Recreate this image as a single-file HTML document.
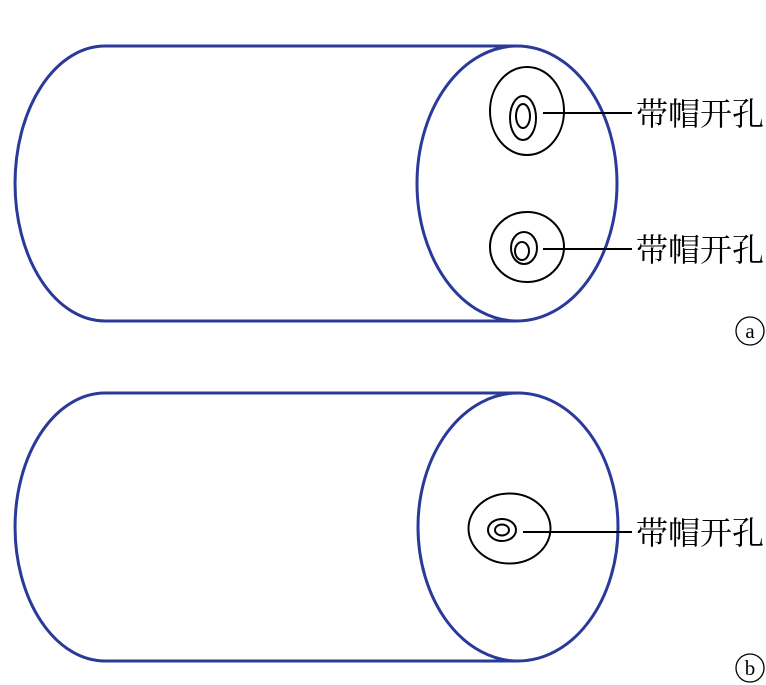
<!DOCTYPE html>
<html><head><meta charset="utf-8"><style>
html,body{margin:0;padding:0;background:#fff}
svg{display:block}
text{font-family:"Liberation Serif","Noto Serif CJK SC","Noto Sans CJK SC",serif;fill:#000}
</style></head><body>
<svg width="766" height="685" viewBox="0 0 766 685" xmlns="http://www.w3.org/2000/svg">
<g fill="none" stroke="#2a3a9a" stroke-width="3">
<path d="M517 46 L105 46 A90 137.5 0 0 0 105 321 L517 321"/>
<ellipse cx="517" cy="183.5" rx="100" ry="137.5"/>
<path d="M517 393 L105 393 A90 134 0 0 0 105 661 L517 661"/>
<ellipse cx="518" cy="527" rx="100" ry="134"/>
</g>
<g fill="none" stroke="#000" stroke-width="2">
<ellipse cx="527" cy="111" rx="37" ry="44"/>
<ellipse cx="523" cy="118" rx="13" ry="22"/>
<ellipse cx="523" cy="116" rx="7" ry="12"/>
<line x1="543" y1="113" x2="632" y2="113"/>
<ellipse cx="527" cy="247" rx="37" ry="35"/>
<ellipse cx="524" cy="248" rx="13" ry="16"/>
<ellipse cx="522" cy="251" rx="7" ry="9"/>
<line x1="543" y1="249" x2="632" y2="249"/>
<ellipse cx="509.5" cy="528.5" rx="41" ry="35"/>
<ellipse cx="502" cy="530" rx="14" ry="11"/>
<ellipse cx="502" cy="530" rx="7" ry="5.5"/>
<line x1="523" y1="532" x2="632" y2="532"/>
<circle cx="750" cy="331" r="14" stroke-width="1.3"/>
<circle cx="750" cy="668" r="14" stroke-width="1.3"/>
</g>
<text x="636" y="125" font-size="32">带帽开孔</text>
<text x="636" y="261" font-size="32">带帽开孔</text>
<text x="636" y="544" font-size="32">带帽开孔</text>
<text x="750" y="338" font-size="21" text-anchor="middle">a</text>
<text x="750" y="675" font-size="21" text-anchor="middle">b</text>
</svg>
</body></html>
